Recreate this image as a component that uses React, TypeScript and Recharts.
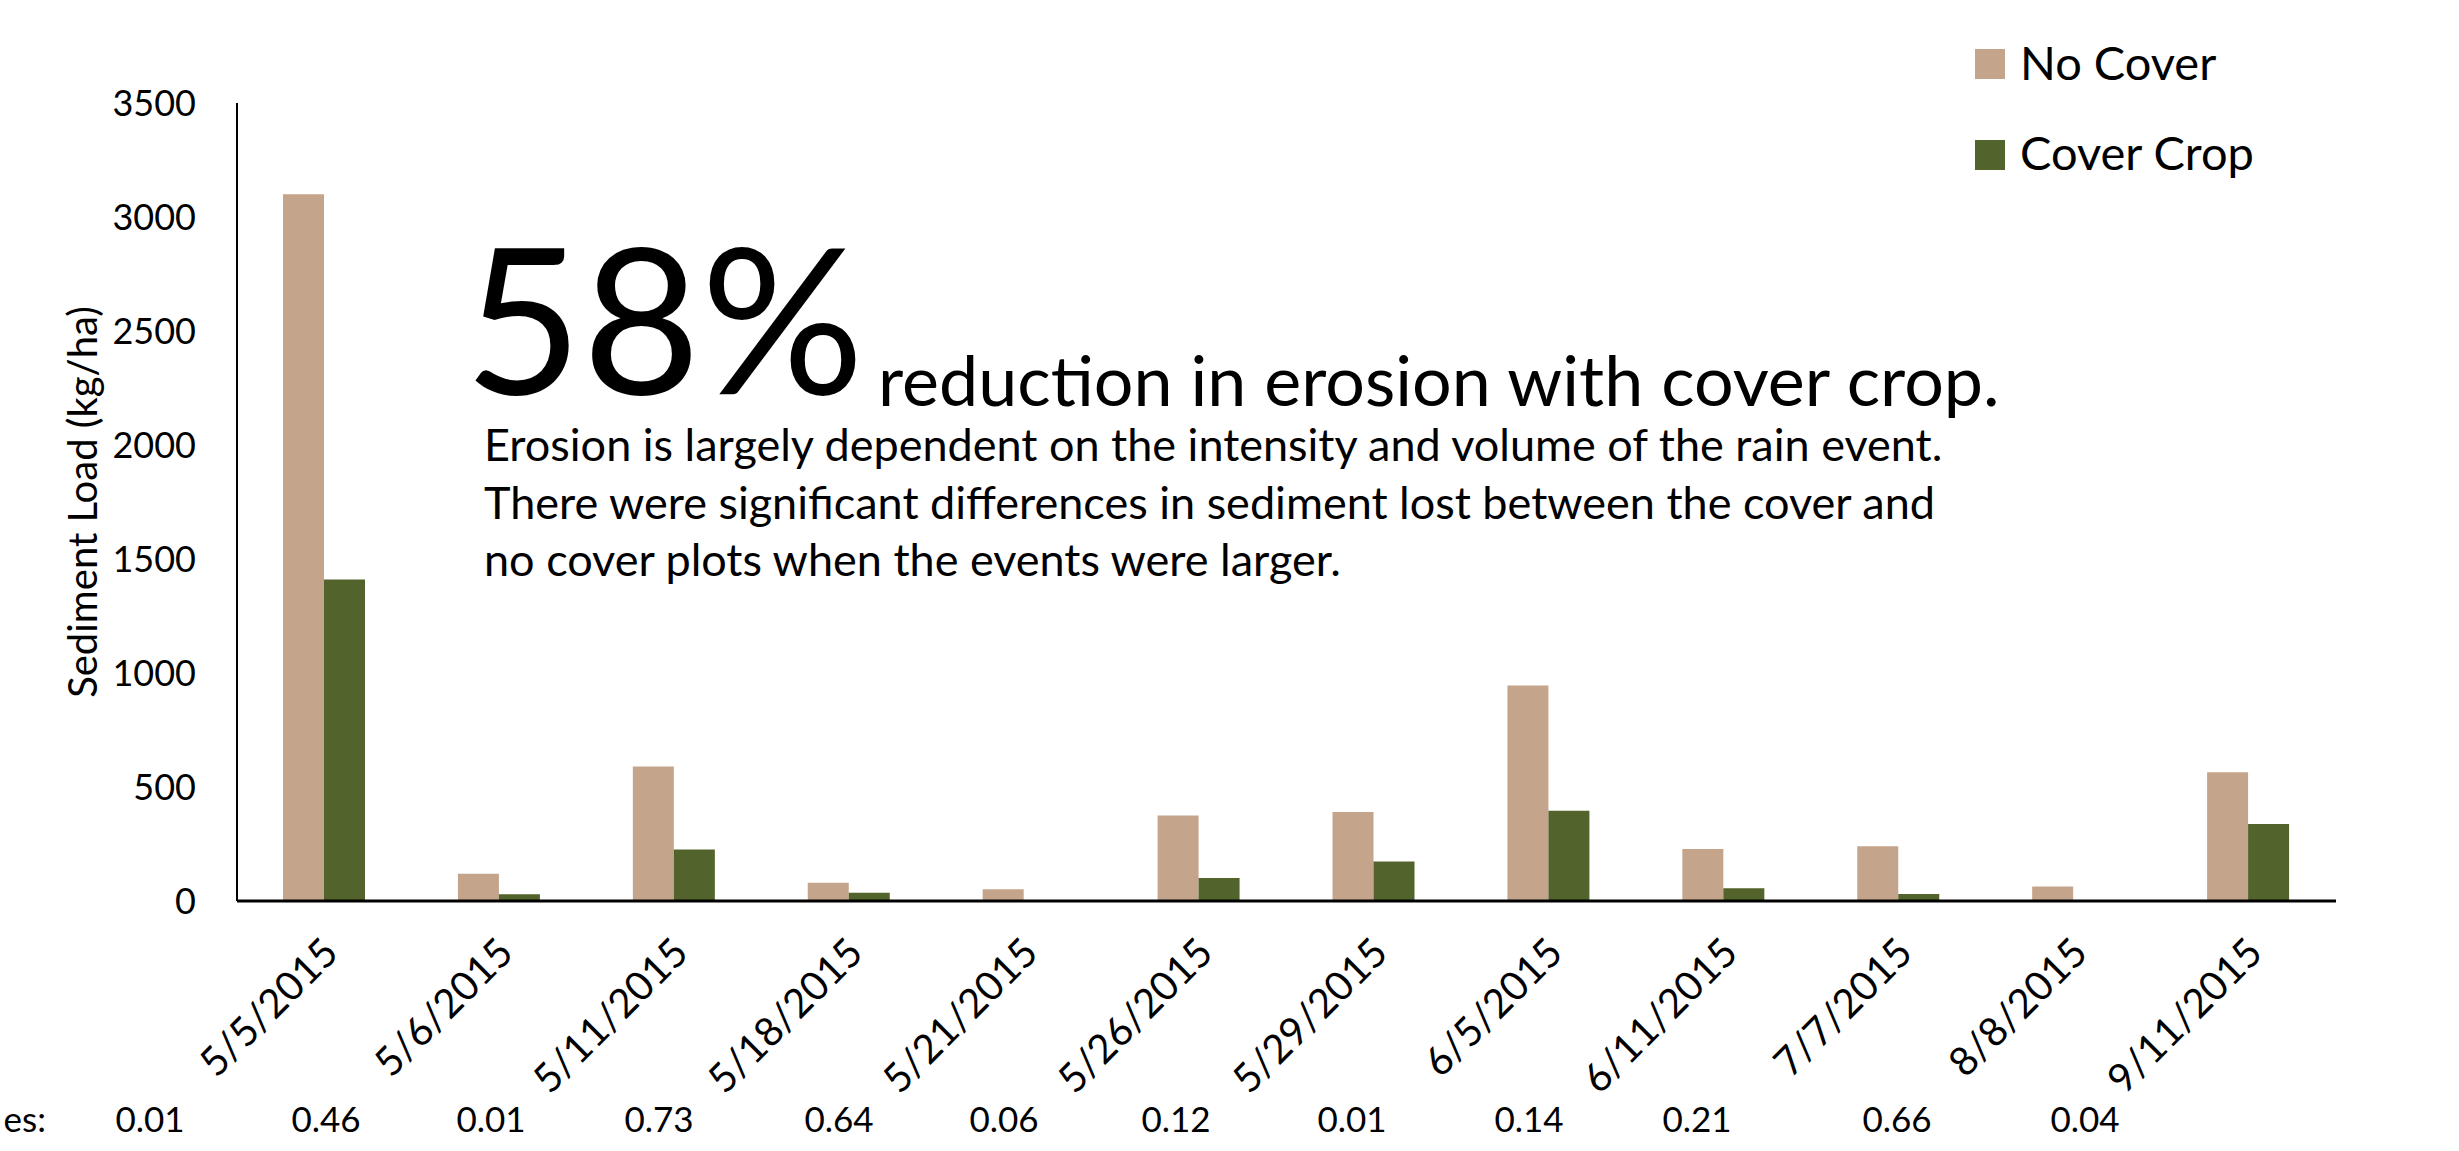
import React from 'react';
import { BarChart, Bar, XAxis, YAxis } from 'recharts';

const dates = ['5/5/2015', '5/6/2015', '5/11/2015', '5/18/2015', '5/21/2015', '5/26/2015', '5/29/2015', '6/5/2015', '6/11/2015', '7/7/2015', '8/8/2015', '9/11/2015'];
const noCover = [3100, 120, 590, 80, 52, 375, 390, 945, 228, 240, 64, 565];
const coverCrop = [1410, 30, 226, 36, 0, 101, 173, 396, 56, 31, -8, 338];
const yTicks = [0, 500, 1000, 1500, 2000, 2500, 3000, 3500];
const intensities = ['0.01', '0.46', '0.01', '0.73', '0.64', '0.06', '0.12', '0.01', '0.14', '0.21', '0.66', '0.04'];
const intensityX = [150, 326, 491, 659, 839, 1004, 1176, 1352, 1529, 1697, 1897, 2085];
const noteLines = [
    'Erosion is largely dependent on the intensity and volume of the rain event.',
    'There were significant differences in sediment lost between the cover and',
    'no cover plots when the events were larger.',
];

const series = [
    { key: 'noCover', name: 'No Cover', color: '#C4A58B' },
    { key: 'coverCrop', name: 'Cover Crop', color: '#52632B' },
];

const data = dates.map((d, i) => ({ date: d, noCover: noCover[i], coverCrop: coverCrop[i] }));

const FONT = 'Lato, "Open Sans", sans-serif';

const DateTick = (props: any) => {
    const { x, y, payload } = props;
    return (
        <g transform={`translate(${x + 16},${y + 52})`}>
            <text x={0} y={0} textAnchor="end" transform="rotate(-45)" fontSize={40} fontFamily={FONT} fill="#000">
                {payload.value}
            </text>
        </g>
    );
};

const App: React.FC = () => {
    return (
        <div style={{ position: 'absolute', left: 0, top: 0, width: 2459, height: 1151, background: '#fff' }}>
            <BarChart
                width={2459}
                height={1151}
                data={data}
                margin={{ top: 103, right: 123, left: 0, bottom: 0 }}
                barCategoryGap="26.3%"
                barGap={0}
            >
                <XAxis
                    dataKey="date"
                    height={250}
                    tickLine={false}
                    axisLine={{ stroke: '#000', strokeWidth: 3 }}
                    tickSize={0}
                    interval={0}
                    tick={<DateTick />}
                />
                <YAxis
                    width={237}
                    domain={[0, 3500]}
                    ticks={yTicks}
                    allowDataOverflow
                    tickLine={false}
                    tickSize={0}
                    tickMargin={41}
                    axisLine={{ stroke: '#000', strokeWidth: 2 }}
                    tick={{ fontSize: 36, fontFamily: FONT, fill: '#000' }}
                />
                {series.map(s => (
                    <Bar key={s.key} dataKey={s.key} name={s.name} fill={s.color} isAnimationActive={false} />
                ))}
            </BarChart>
            <svg width={2459} height={1151} style={{ position: 'absolute', left: 0, top: 0, pointerEvents: 'none' }}>
                <text transform="translate(82,502) rotate(-90)" textAnchor="middle" dominantBaseline="central" fontSize={40} fontFamily={FONT} fill="#000">
                    Sediment Load (kg/ha)
                </text>
                <text x={464} y={394} fontSize={204} fontFamily={FONT} fill="#000">58%</text>
                <text x={878} y={406} fontSize={70} fontFamily={FONT} fill="#000">reduction in erosion with cover crop.</text>
                {noteLines.map((line, i) => (
                    <text key={i} x={484} y={461 + i * 57.5} fontSize={45} fontFamily={FONT} fill="#000">{line}</text>
                ))}
                {series.map((s, i) => (
                    <g key={s.key}>
                        <rect x={1975} y={49 + i * 91} width={30} height={30} fill={s.color} />
                        <text x={2020} y={80 + i * 90} fontSize={47} fontFamily={FONT} fill="#000">{s.name}</text>
                    </g>
                ))}
                <text x={46} y={1132} textAnchor="end" fontSize={35} fontFamily={FONT} fill="#000">es:</text>
                {intensities.map((v, i) => (
                    <text key={i} x={intensityX[i]} y={1132} textAnchor="middle" fontSize={35} fontFamily={FONT} fill="#000">{v}</text>
                ))}
            </svg>
        </div>
    );
};

export default App;
